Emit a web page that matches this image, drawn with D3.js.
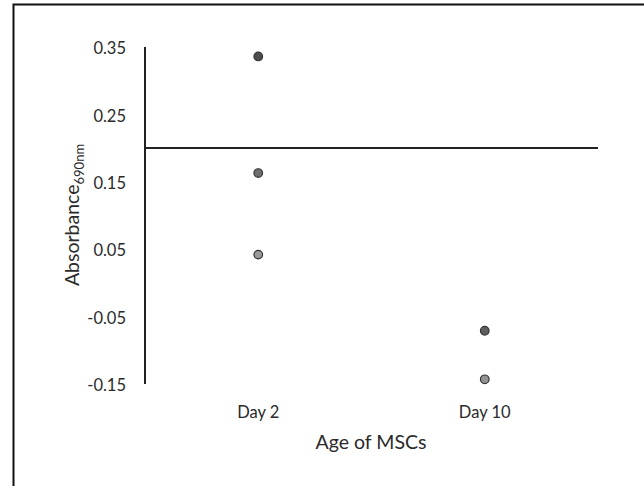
<!DOCTYPE html>
<html><head><meta charset="utf-8">
<script src="https://cdn.jsdelivr.net/npm/d3@7"></script>
<style>body{margin:0;background:#fff}svg{display:block}text{font-family:Lato,"Open Sans",sans-serif;fill:#2a2a2a}</style>
</head><body><svg id="c" width="644" height="486"></svg>
<script>
const categories = ["Day 2", "Day 10"];
const day2Values = [0.336, 0.163, 0.042];
const day10Values = [-0.071, -0.143];
const day2Fills = ["#4d4d4d", "#6e6e6e", "#9a9a9a"];
const day10Fills = ["#5e5e5e", "#939393"];
const yTicks = [0.35, 0.25, 0.15, 0.05, -0.05, -0.15];
const crossAt = 0.2;

const svg = d3.select("#c");
// frame
svg.append("path").attr("d","M13.5,486 V4.5 H644").attr("fill","none").attr("stroke","#111").attr("stroke-width",2);

const x = d3.scaleBand().domain(categories).range([145, 598]);
const y = d3.scaleLinear().domain([-0.15, 0.35]).range([384, 47]);
const fmt = d => d3.format(".2f")(d).replace("\u2212", "-");

// y axis
svg.append("line").attr("x1",145).attr("x2",145).attr("y1",y(0.35)).attr("y2",y(-0.15)).attr("stroke","#222").attr("stroke-width",2);
svg.selectAll("text.yt").data(yTicks).enter().append("text").attr("class","yt")
  .attr("x",126).attr("y",d=>y(d)+3).attr("text-anchor","end").attr("dominant-baseline","middle")
  .attr("font-size",16.5).text(fmt);
// x axis crossing at 0.2
svg.append("line").attr("x1",145).attr("x2",598).attr("y1",y(crossAt)).attr("y2",y(crossAt)).attr("stroke","#222").attr("stroke-width",2);

svg.selectAll("text.xt").data(categories).enter().append("text").attr("class","xt")
  .attr("x",d=>x(d)+x.bandwidth()/2).attr("y",418).attr("text-anchor","middle").attr("font-size",16.5).text(d=>d);

svg.append("text").attr("x",371).attr("y",449).attr("text-anchor","middle").attr("font-size",19.5).text("Age of MSCs");

const yt = svg.append("text").attr("transform","translate(79,215) rotate(-90)").attr("text-anchor","middle").attr("font-size",19.5);
yt.append("tspan").text("Absorbance");
yt.append("tspan").attr("font-size",13).attr("dy",5).text("690nm");

const pts = day2Values.map((v,i)=>({c:"Day 2",v,f:day2Fills[i]})).concat(day10Values.map((v,i)=>({c:"Day 10",v,f:day10Fills[i]})));
svg.selectAll("circle").data(pts).enter().append("circle")
  .attr("cx",d=>x(d.c)+x.bandwidth()/2).attr("cy",d=>y(d.v)).attr("r",4.3)
  .attr("fill",d=>d.f).attr("stroke","#333").attr("stroke-width",1.2);
</script></body></html>
